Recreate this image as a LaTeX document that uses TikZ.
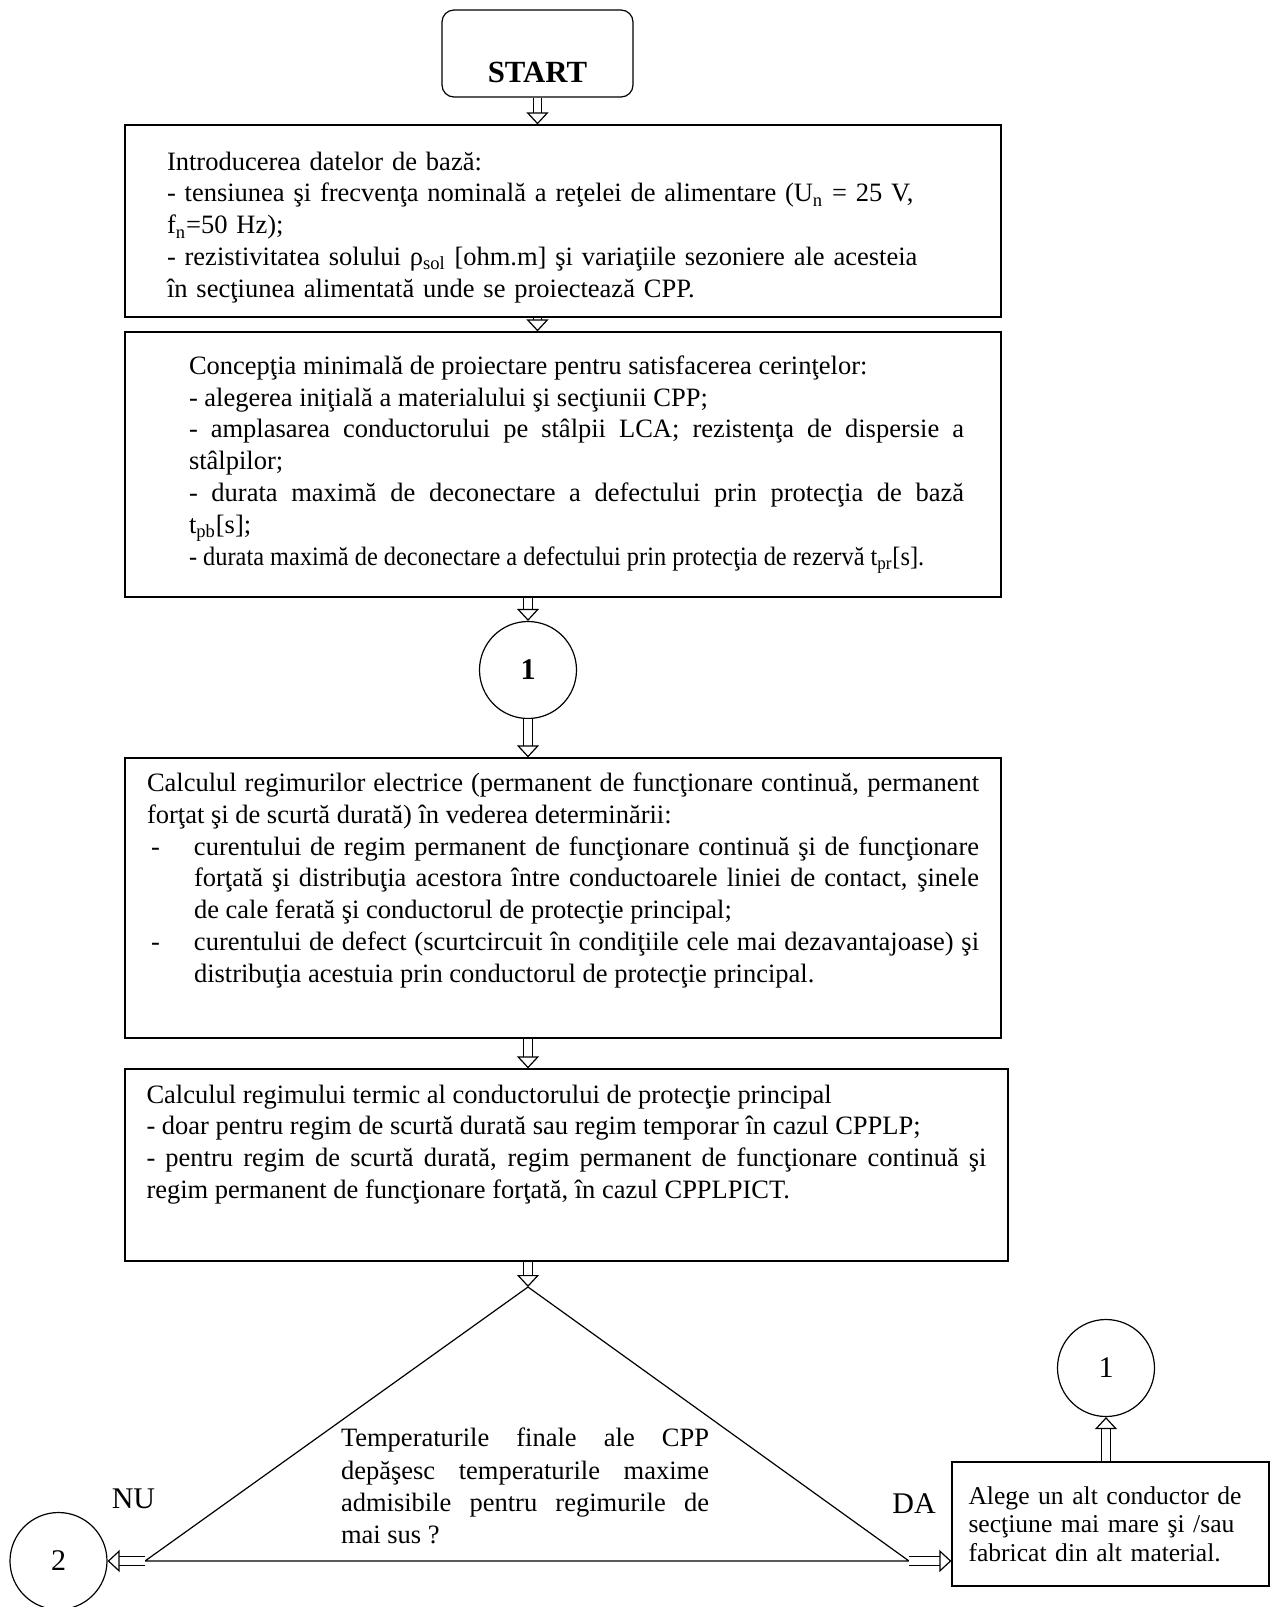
\documentclass[tikz,border=0pt]{standalone}
\usepackage{fontspec}
\setmainfont{Liberation Serif}
\usetikzlibrary{arrows.meta, positioning}

\newcommand\dashitem{\par\noindent\hangindent=23.5pt\hangafter=1\makebox[23.5pt][l]{\hspace{2pt}-}}

\begin{document}
\begin{tikzpicture}[x=0.5pt, y=-0.5pt,
		textbox/.style={rectangle,draw,line width=0.6pt,inner sep=0pt,
			font=\fontsize{13.25}{15.9}\selectfont},
		roundbox/.style={rectangle,rounded corners=6pt,draw,line width=0.6pt,inner sep=0pt},
		joincircle/.style={circle,draw,line width=0.6pt,minimum size=48.5pt,inner sep=0pt,
			font=\fontsize{15}{18}\selectfont},
		hollowarrow/.style={double,double distance=3.6pt,line width=0.6pt,
			-{Triangle[open,length=6pt,width=11pt]}}
		]
		\useasboundingbox (0,0) rectangle (1274,1607);

		\node[roundbox, minimum width=95.5pt, minimum height=43.5pt,
		font=\fontsize{15.4}{18}\selectfont\bfseries](St) at (537.5,53.5){\rule{0pt}{29pt}START};

		\node[textbox, minimum width=438pt, minimum height=96pt, text width=396pt,
		align=left](B1) at (563,221){\rule{0pt}{15.5pt}Introducerea datelor de bază:\\
			- tensiunea şi frecvenţa nominală a reţelei de alimentare (U\textsubscript{n} = 25 V,\\
			f\textsubscript{n}=50 Hz);\\
			- rezistivitatea solului ρ\textsubscript{sol} [ohm.m] şi variaţiile sezoniere ale acesteia\\
			în secţiunea alimentată unde se proiectează CPP.};
		\draw[hollowarrow] (St.south) -- (St.south |- B1.north);

		\node[textbox, minimum width=438pt, minimum height=132.5pt, text width=401pt,
		align=justify](B2) at (563,464.5){\leftskip=13.5pt
			Concepţia minimală de proiectare pentru satisfacerea cerinţelor:\\
			- alegerea iniţială a materialului şi secţiunii CPP;\\
			- amplasarea conductorului pe stâlpii LCA; rezistenţa de dispersie a\linebreak
			stâlpilor;\\
			- durata maximă de deconectare a defectului prin protecţia de bază\linebreak
			t\textsubscript{pb}[s];\\
			\scalebox{0.92}[1]{- durata maximă de deconectare a defectului prin protecţia de rezervă t\textsubscript{pr}[s].}\par};
		\draw[hollowarrow] (St.south |- B1.south) -- (St.south |- B2.north);

		\node[joincircle, font=\fontsize{15}{18}\selectfont\bfseries](C1) at (528,670){1};
		\draw[hollowarrow] (C1 |- B2.south) -- (C1.north);

		\node[textbox, minimum width=438pt, minimum height=140pt, text width=416pt,
		align=justify](B3) at (563,898){Calculul regimurilor electrice (permanent de funcţionare continuă, permanent\linebreak
			forţat şi de scurtă durată) în vederea determinării:
			\dashitem curentului de regim permanent de funcţionare continuă şi de funcţionare\linebreak
			forţată şi distribuţia acestora între conductoarele liniei de contact, şinele\linebreak
			de cale ferată şi conductorul de protecţie principal;
			\dashitem curentului de defect (scurtcircuit în condiţiile cele mai dezavantajoase) şi\linebreak
			distribuţia acestuia prin conductorul de protecţie principal.\rule[-20.5pt]{0pt}{20.5pt}\par};
		\draw[hollowarrow] (C1.south) -- (C1 |- B3.north);

		\node[textbox, minimum width=441.5pt, minimum height=96pt, text width=420pt,
		align=justify](B4) at (566.5,1165){Calculul regimului termic al conductorului de protecţie principal\\
			- doar pentru regim de scurtă durată sau regim temporar în cazul CPPLP;\\
			- pentru regim de scurtă durată, regim permanent de funcţionare continuă şi\linebreak
			regim permanent de funcţionare forţată, în cazul CPPLPICT.\rule[-23.5pt]{0pt}{23.5pt}\par};
		\draw[hollowarrow] (C1 |- B3.south) -- (C1 |- B4.north);

		% decision
		\coordinate (Dt) at (528,1287);
		\coordinate (Dl) at (145,1561);
		\coordinate (Dr) at (909,1561);
		\draw[line width=0.6pt] (Dt) -- (Dl) -- (Dr) -- cycle;
		\draw[hollowarrow] (C1 |- B4.south) -- (Dt);
		\node[font=\fontsize{13.25}{16.1}\selectfont, text width=184pt, align=justify,
		inner sep=0pt](Dq) at (525,1486){Temperaturile finale ale CPP\linebreak
			depăşesc temperaturile maxime\linebreak
			admisibile pentru regimurile de\linebreak
			mai sus ?\par};

		\node[joincircle](C2) at (58.5,1561){2};
		\draw[hollowarrow] (Dl) -- (C2.east);
		\node[font=\fontsize{15}{18}\selectfont](NU) at (133.5,1499){NU};

		\node[textbox, minimum width=158.5pt, minimum height=62pt, text width=142pt,
		align=left, font=\fontsize{12.8}{14.25}\selectfont](B5) at (1110.5,1524){Alege un alt conductor de\\
			secţiune mai mare şi /sau\\
			fabricat din alt material.};
		\draw[hollowarrow] (Dr) -- (Dr -| B5.west);
		\node[font=\fontsize{15}{18}\selectfont](DA) at (914,1504){DA};

		\node[joincircle](C3) at (1106,1368){1};
		\draw[hollowarrow] (C3 |- B5.north) -- (C3.south);
	\end{tikzpicture}
\end{document}
